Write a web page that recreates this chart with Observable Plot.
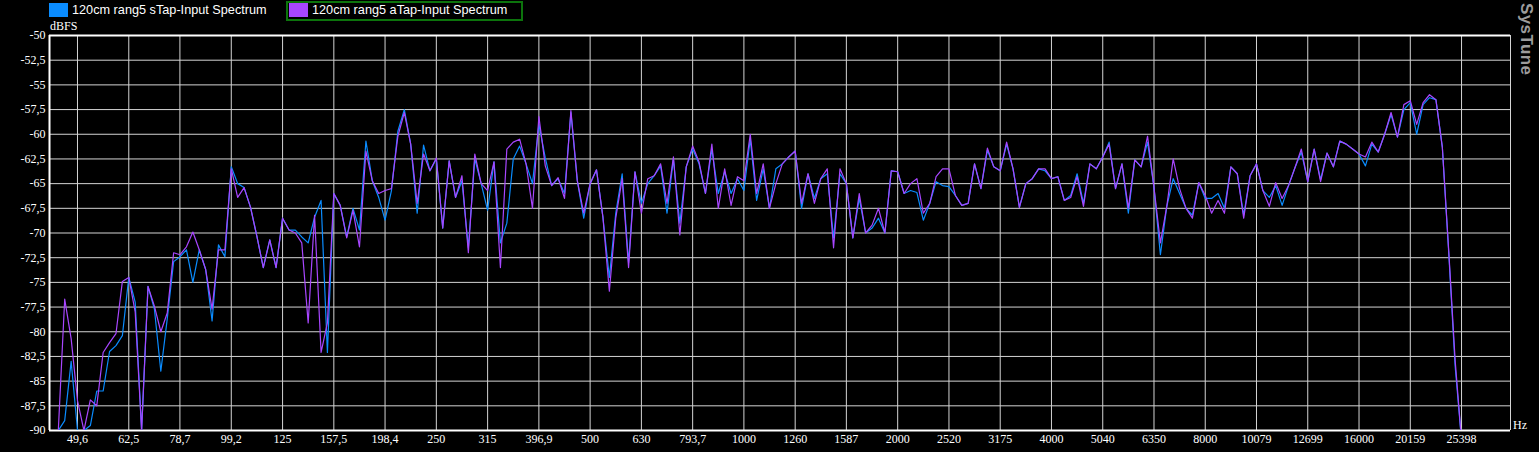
<!DOCTYPE html>
<html>
<head>
<meta charset="utf-8">
<script src="https://cdn.jsdelivr.net/npm/d3@7"></script>
<script src="https://cdn.jsdelivr.net/npm/@observablehq/plot@0.6"></script>
<style>
html,body{margin:0;padding:0;background:#000;overflow:hidden}
#wrap{position:relative;width:1539px;height:452px;background:#000}
.leg{position:absolute;font:12.7px "Liberation Sans",Arial,sans-serif;color:#fff;white-space:nowrap;line-height:14px}
.sw{position:absolute;width:19px;height:14px}
.lbl{position:absolute;font:12px "Liberation Serif","Times New Roman",serif;color:#fff;white-space:nowrap}
#brand{position:absolute;left:1516px;top:3px;writing-mode:vertical-rl;font:bold 17px "Liberation Sans",Arial,sans-serif;color:#9c9c9c;letter-spacing:0.4px}
</style>
</head>
<body>
<div id="wrap">
  <div id="chart"></div>
</div>
<script>
const seriesNames = ["120cm rang5 sTap-Input Spectrum", "120cm rang5 aTap-Input Spectrum"];
const seriesColors = ["#0a8cff", "#a846ff"];

// frequency grid of the analyzer (Hz)
const freqs = [44.19,45.49,46.82,48.20,
49.61,51.06,52.56,54.10,55.68,57.31,58.99,60.72,
62.50,64.33,66.22,68.16,70.15,72.21,74.33,76.50,
78.75,81.05,83.43,85.87,88.39,90.98,93.64,96.39,
99.21,102.1,105.1,108.2,111.4,114.6,118.0,121.4,
125.0,128.7,132.4,136.3,140.3,144.4,148.7,153.0,
157.5,162.1,166.9,171.7,176.8,182.0,187.3,192.8,
198.4,204.2,210.2,216.4,222.7,229.3,236.0,242.9,
250.0,257.3,264.9,272.6,280.6,288.8,297.3,306.0,
315.0,324.2,333.7,343.5,353.6,363.9,374.6,385.6,
396.9,408.5,420.4,432.8,445.5,458.5,471.9,485.8,
500.0,514.6,529.7,545.3,561.2,577.7,594.6,612.0,
630.0,648.4,667.4,687.0,707.1,727.8,749.2,771.1,
793.7,817.0,840.9,865.5,890.9,917.0,943.9,971.5,
1000,1029,1059,1091,1122,1155,1189,1224,
1260,1297,1335,1374,1414,1456,1498,1542,
1587,1634,1682,1731,1782,1834,1888,1943,
2000,2059,2119,2181,2245,2311,2378,2448,
2520,2594,2670,2748,2828,2911,2997,3084,
3175,3268,3364,3462,3564,3668,3775,3886,
4000,4117,4238,4362,4490,4621,4757,4896,
5040,5187,5339,5496,5657,5823,5993,6169,
6350,6536,6727,6924,7127,7336,7551,7772,
8000,8234,8476,8724,8980,9243,9514,9792,
10079,10374,10678,10991,11313,11645,11986,12337,
12699,13071,13454,13848,14254,14672,15102,15544,
16000,16469,16951,17448,17959,18486,19027,19585,
20159,20750,21358,21983,22628,23291,23973,24676,
25398,26142];

// 120cm rang5 sTap-Input Spectrum (dBFS)
const sTap = [-90,-90,-89,-83,
-90,-90,-89.5,-86,-86,-82,-81.4,-80.4,
-74.5,-77,-90,-75.4,-77.7,-84,-78.7,-72.9,
-72.4,-71.7,-75.0,-71.7,-73.7,-78.9,-71.2,-72.4,
-63.3,-65,-65.4,-67.4,-70.4,-73.5,-70.7,-73.5,
-68.5,-69.7,-69.7,-70.4,-71,-68.4,-66.7,-82.1,
-66.0,-67.2,-70.4,-67.5,-69.7,-60.7,-64.7,-66.4,
-68.7,-65.7,-59.7,-57.5,-61,-68,-61.1,-63.7,
-62.5,-69.5,-62.7,-66.4,-64.7,-71.5,-62.5,-65,
-67.7,-62.8,-71,-69,-62.5,-61.2,-63,-65,
-59,-62.4,-65.2,-64.5,-66,-57.8,-64.7,-68.5,
-65.0,-63.6,-68.4,-74.5,-68,-64,-73,-63.8,
-67,-65,-64.2,-63.2,-68,-62.5,-69,-63.3,
-61.5,-63,-66,-61.5,-66,-63.8,-66,-64.5,
-65.7,-60.5,-66.7,-63.5,-67.5,-63.5,-63.0,-62.3,
-61.7,-67.5,-64.0,-66.5,-64.5,-64,-70.5,-64,
-65.0,-70.5,-66.5,-70.0,-69.5,-68.5,-70,-63.7,
-63.8,-66.0,-65.7,-65.9,-68.7,-67.0,-64.8,-65.2,
-65.3,-66.2,-67.2,-67,-63.0,-65.5,-61.6,-63.3,
-63.7,-61,-63.5,-67.4,-65.0,-64.5,-63.5,-63.7,
-64.5,-64.3,-66.7,-66.2,-64.0,-67.0,-63,-63.5,
-62.3,-60.8,-65.5,-63,-68,-62.6,-63.3,-60.8,
-65.4,-72.2,-67.3,-64.5,-66,-67.5,-68.2,-64.9,
-66.5,-66.5,-66.0,-67.5,-63.3,-64.0,-68.2,-64.2,
-63,-65.7,-66.4,-65.2,-67.2,-65.2,-63.4,-61.8,
-64.8,-61.5,-64.6,-61.9,-63.3,-60.7,-61.0,-61.5,
-62.0,-63.2,-61,-61.8,-60.0,-58,-60.3,-57.5,
-56.8,-60,-57,-56.3,-56.5,-61.3,-72,-83.5,
-91,-95];

// 120cm rang5 aTap-Input Spectrum (dBFS)
const aTap = [-90,-90,-76.7,-80.7,
-87,-90,-86.9,-87.5,-82.1,-81.1,-80.2,-74.9,
-74.5,-78,-90,-75.4,-77.4,-80,-78.1,-72.0,
-72.2,-71.4,-69.9,-71.7,-73.7,-77.7,-71.7,-71.7,
-63.5,-66.4,-65.4,-67.4,-70.4,-73.5,-70.7,-73.5,
-68.5,-69.7,-70.0,-71.0,-79.1,-68.2,-82.1,-79.1,
-66.0,-67.2,-70.5,-67.7,-71.4,-61.7,-64.7,-66.0,
-65.7,-65.5,-60.2,-57.8,-61,-67,-62.0,-63.7,
-62.4,-69.5,-62.7,-66.4,-64.2,-72,-62,-65,
-65.7,-62.8,-73.5,-61.5,-60.8,-60.5,-63,-67.5,
-58.2,-63.2,-65.2,-64.4,-66.5,-57.6,-64.7,-68.0,
-65.0,-63.6,-68.4,-75.9,-68.5,-64.5,-73.5,-63.8,
-68.0,-64.5,-64.2,-63.0,-67,-62.3,-70.2,-63.3,
-61.2,-62.8,-66,-61,-67.5,-63.5,-67.2,-64.3,
-64.7,-60.0,-66.0,-63.0,-67.5,-65,-63.0,-62.3,
-61.7,-67,-64.0,-67,-64.5,-63.5,-71.5,-63.5,
-65.0,-70.5,-66,-70.0,-69.2,-67.5,-70,-63.7,
-63.8,-66.0,-65.0,-64.5,-68.0,-67.0,-64.3,-63.5,
-63.5,-66.2,-67.2,-67,-63.0,-65.5,-61.4,-63.3,
-63.7,-60.8,-63.5,-67.4,-65.0,-64.5,-63.5,-63.5,
-64.5,-64.3,-66.7,-66.4,-64.3,-67.3,-63,-63.5,
-62.3,-61.0,-65.5,-63,-67.5,-62.6,-63.3,-60.2,
-65.4,-71.0,-67.3,-62.5,-65.5,-67.5,-68.5,-64.9,
-66.2,-68,-66.7,-68,-63.3,-64.0,-68.5,-64.2,
-63,-65.7,-67.3,-64.9,-66.5,-65.2,-63.4,-61.5,
-64.8,-61.5,-64.8,-61.9,-63.3,-60.7,-61.0,-61.5,
-62.0,-62.3,-60.8,-61.8,-60.0,-57.8,-60.3,-57.0,
-56.6,-59,-56.8,-56.0,-56.5,-61.3,-71.8,-82.9,
-91,-95];

const xTicks = [49.6,62.5,78.7,99.2,125,157.5,198.4,250,315,396.9,500,630,793.7,1000,1260,1587,2000,2520,3175,4000,5040,6350,8000,10079,12699,16000,20159,25398];
const xTickLabels = ["49,6","62,5","78,7","99,2","125","157,5","198,4","250","315","396,9","500","630","793,7","1000","1260","1587","2000","2520","3175","4000","5040","6350","8000","10079","12699","16000","20159","25398"];
const yTicks = [-90,-87.5,-85,-82.5,-80,-77.5,-75,-72.5,-70,-67.5,-65,-62.5,-60,-57.5,-55,-52.5,-50];
const yTickLabels = ["-90","-87,5","-85","-82,5","-80","-77,5","-75","-72,5","-70","-67,5","-65","-62,5","-60","-57,5","-55","-52,5","-50"];
const xDomain = [43.72, 31670];
const yDomain = [-90, -50];

const rowsS = freqs.map((f, i) => ({f, v: sTap[i]}));
const rowsA = freqs.map((f, i) => ({f, v: aTap[i]}));
const xTickRows = xTicks.map((t, i) => ({t, label: xTickLabels[i]}));
const yTickRows = yTicks.map((t, i) => ({t, label: yTickLabels[i]}));

const gridColor = "#d4d4d4";
const chart = Plot.plot({
  width: 1539,
  height: 452,
  marginLeft: 49,
  marginRight: 29,
  marginTop: 35,
  marginBottom: 22,
  style: {background: "#000", color: "#fff", fontFamily: "'Liberation Serif', serif", fontSize: "12px"},
  x: {type: "log", domain: xDomain, axis: null},
  y: {domain: yDomain, axis: null},
  marks: [
    Plot.ruleX(xTicks, {stroke: gridColor, strokeWidth: 1}),
    Plot.ruleY(yTicks, {stroke: gridColor, strokeWidth: 1}),
    Plot.ruleX([xDomain[1]], {stroke: gridColor, strokeWidth: 1}),
    Plot.ruleX([xDomain[0]], {stroke: "#fff", strokeWidth: 2}),
    Plot.ruleY([-50, -90], {stroke: "#fff", strokeWidth: 2}),
    Plot.line(rowsS, {x: "f", y: "v", stroke: seriesColors[0], strokeWidth: 1.2, clip: true}),
    Plot.line(rowsA, {x: "f", y: "v", stroke: seriesColors[1], strokeWidth: 1.2, clip: true}),
    Plot.text(xTickRows, {x: "t", text: "label", frameAnchor: "bottom", dy: 12, fill: "#fff", fontSize: 12}),
    Plot.text(yTickRows, {y: "t", text: "label", frameAnchor: "left", dx: -4, textAnchor: "end", fill: "#fff", fontSize: 12})
  ]
});
document.getElementById("chart").appendChild(chart);

const wrap = document.getElementById("wrap");
function add(html) { wrap.insertAdjacentHTML("beforeend", html); }
// legend
add(`<div class="sw" style="left:49px;top:3px;background:${seriesColors[0]}"></div>`);
add(`<div class="leg" style="left:72px;top:3px">${seriesNames[0]}</div>`);
add(`<div style="position:absolute;left:286px;top:1px;width:233px;height:16px;border:2px solid #0c740c"></div>`);
add(`<div class="sw" style="left:289px;top:3px;background:${seriesColors[1]}"></div>`);
add(`<div class="leg" style="left:312px;top:3px">${seriesNames[1]}</div>`);
// axis units and brand
add(`<div class="lbl" style="left:50px;top:19px">dBFS</div>`);
add(`<div class="lbl" style="left:1513px;top:418px">Hz</div>`);
add(`<div id="brand">SysTune</div>`);
</script>
</body>
</html>
